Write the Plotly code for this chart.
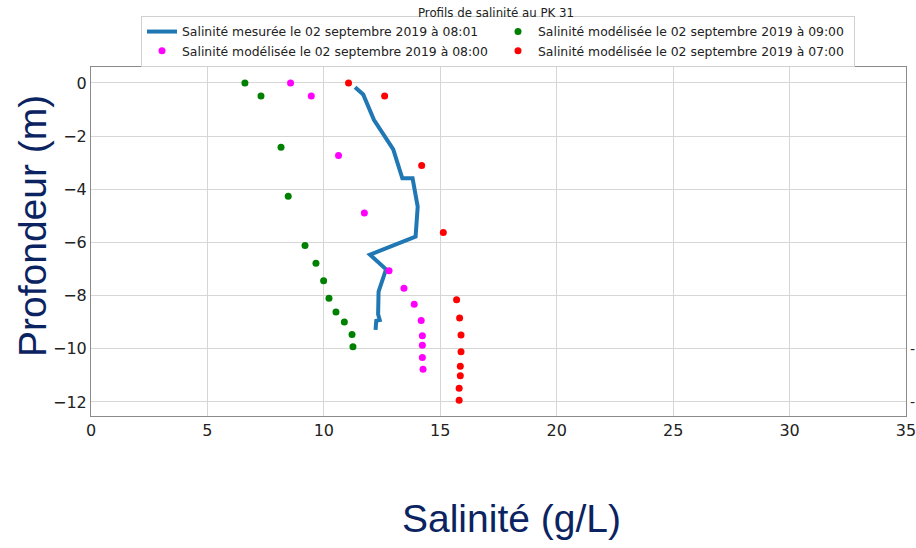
import plotly.graph_objects as go

# Measured salinity profile (line)
mes_sal = [11.34, 11.69, 12.15, 12.55, 12.98, 13.37, 13.81, 14.03, 13.94, 11.98, 12.67, 12.35, 12.33, 12.40, 12.25, 12.22]
mes_dep = [-0.16, -0.43, -1.39, -1.92, -2.50, -3.59, -3.59, -4.65, -5.78, -6.46, -7.01, -7.85, -8.70, -8.92, -8.95, -9.29]

# Modelled 09:00 (green)
m09_sal = [6.61, 7.30, 8.16, 8.47, 9.19, 9.66, 9.99, 10.22, 10.52, 10.88, 11.21, 11.25]
m09_dep = [0.0, -0.49, -2.42, -4.26, -6.12, -6.78, -7.44, -8.10, -8.62, -8.99, -9.46, -9.92]

# Modelled 08:00 (magenta)
m08_sal = [8.57, 9.46, 10.63, 11.74, 12.80, 13.44, 13.88, 14.18, 14.23, 14.23, 14.23, 14.26]
m08_dep = [0.0, -0.49, -2.73, -4.89, -7.07, -7.72, -8.33, -8.94, -9.51, -9.87, -10.33, -10.77]

# Modelled 07:00 (red)
m07_sal = [11.06, 12.61, 14.20, 15.13, 15.70, 15.83, 15.89, 15.89, 15.86, 15.86, 15.81, 15.81]
m07_dep = [0.0, -0.49, -3.11, -5.63, -8.16, -8.84, -9.48, -10.11, -10.66, -11.02, -11.49, -11.94]

x_ticks = [0, 5, 10, 15, 20, 25, 30, 35]
y_ticks = [0, -2, -4, -6, -8, -10, -12]
y_ticktext = ["0", "\u22122", "\u22124", "\u22126", "\u22128", "\u221210", "\u221212"]

fig = go.Figure()
fig.add_trace(go.Scatter(x=mes_sal, y=mes_dep, mode="lines",
                         line=dict(color="#1f77b4", width=4),
                         name="Salinité mesurée le 02 septembre 2019 à 08:01"))
fig.add_trace(go.Scatter(x=m09_sal, y=m09_dep, mode="markers",
                         marker=dict(color="green", size=7),
                         name="Salinité modélisée le 02 septembre 2019 à 09:00"))
fig.add_trace(go.Scatter(x=m08_sal, y=m08_dep, mode="markers",
                         marker=dict(color="magenta", size=7),
                         name="Salinité modélisée le 02 septembre 2019 à 08:00"))
fig.add_trace(go.Scatter(x=m07_sal, y=m07_dep, mode="markers",
                         marker=dict(color="red", size=7),
                         name="Salinité modélisée le 02 septembre 2019 à 07:00"))

L, R, T, B = 91, 10, 67, 132
W, H = 916, 548
pw, ph = W - L - R, H - T - B

def px_to_paper_x(px):
    return (px - L) / pw

def py_to_paper_y(py):
    return 1 - (py - T) / ph

axis_common = dict(showgrid=True, gridcolor="#d6d6d6", gridwidth=1,
                   showline=True, linecolor="#8a8a8a", linewidth=1, mirror=True,
                   zeroline=False, ticks="", tickfont=dict(family="DejaVu Sans", size=16, color="#222"),
                   automargin=False, ticklabeloverflow="allow")

fig.update_layout(
    width=W, height=H,
    margin=dict(l=L, r=R, t=T, b=B, autoexpand=False),
    plot_bgcolor="white", paper_bgcolor="white",
    title=dict(text="Profils de salinité au PK 31", x=px_to_paper_x(496), xref="paper", xanchor="center",
               y=1 - 13 / H, yref="container", yanchor="middle",
               font=dict(family="DejaVu Sans", size=11.8, color="#222")),
    xaxis=dict(range=[0, 35], tickvals=x_ticks, **axis_common),
    yaxis=dict(range=[-12.53, 0.6], tickvals=y_ticks, ticktext=y_ticktext, **axis_common),
    legend=dict(orientation="h", x=px_to_paper_x(141), xanchor="left",
                y=py_to_paper_y(16), yanchor="top",
                entrywidth=311, entrywidthmode="pixels",
                bordercolor="#d0d0d0", borderwidth=1, bgcolor="white",
                font=dict(family="DejaVu Sans", size=12.4, color="#222"),
                tracegroupgap=0),
    showlegend=True,
)

fig.add_annotation(text="Profondeur (m)", textangle=-90, showarrow=False,
                   xref="paper", yref="paper", x=px_to_paper_x(32), y=py_to_paper_y(226),
                   xanchor="center", yanchor="middle",
                   font=dict(family="Liberation Sans", size=39, color="#0b2461"))
fig.add_annotation(text="Salinité (g/L)", showarrow=False,
                   xref="paper", yref="paper", x=px_to_paper_x(511), y=py_to_paper_y(518),
                   xanchor="center", yanchor="middle",
                   font=dict(family="Liberation Sans", size=39, color="#0b2461"))
for yv in [-10, -12]:
    fig.add_annotation(text="-", showarrow=False, xref="paper", yref="y",
                       x=px_to_paper_x(916), y=yv, xanchor="right", yanchor="middle",
                       borderpad=0, font=dict(family="DejaVu Sans", size=14, color="#222"))

fig.write_html("out.html", config={"displayModeBar": False},
               post_script="document.body.style.margin='0';document.body.style.overflow='hidden';")
